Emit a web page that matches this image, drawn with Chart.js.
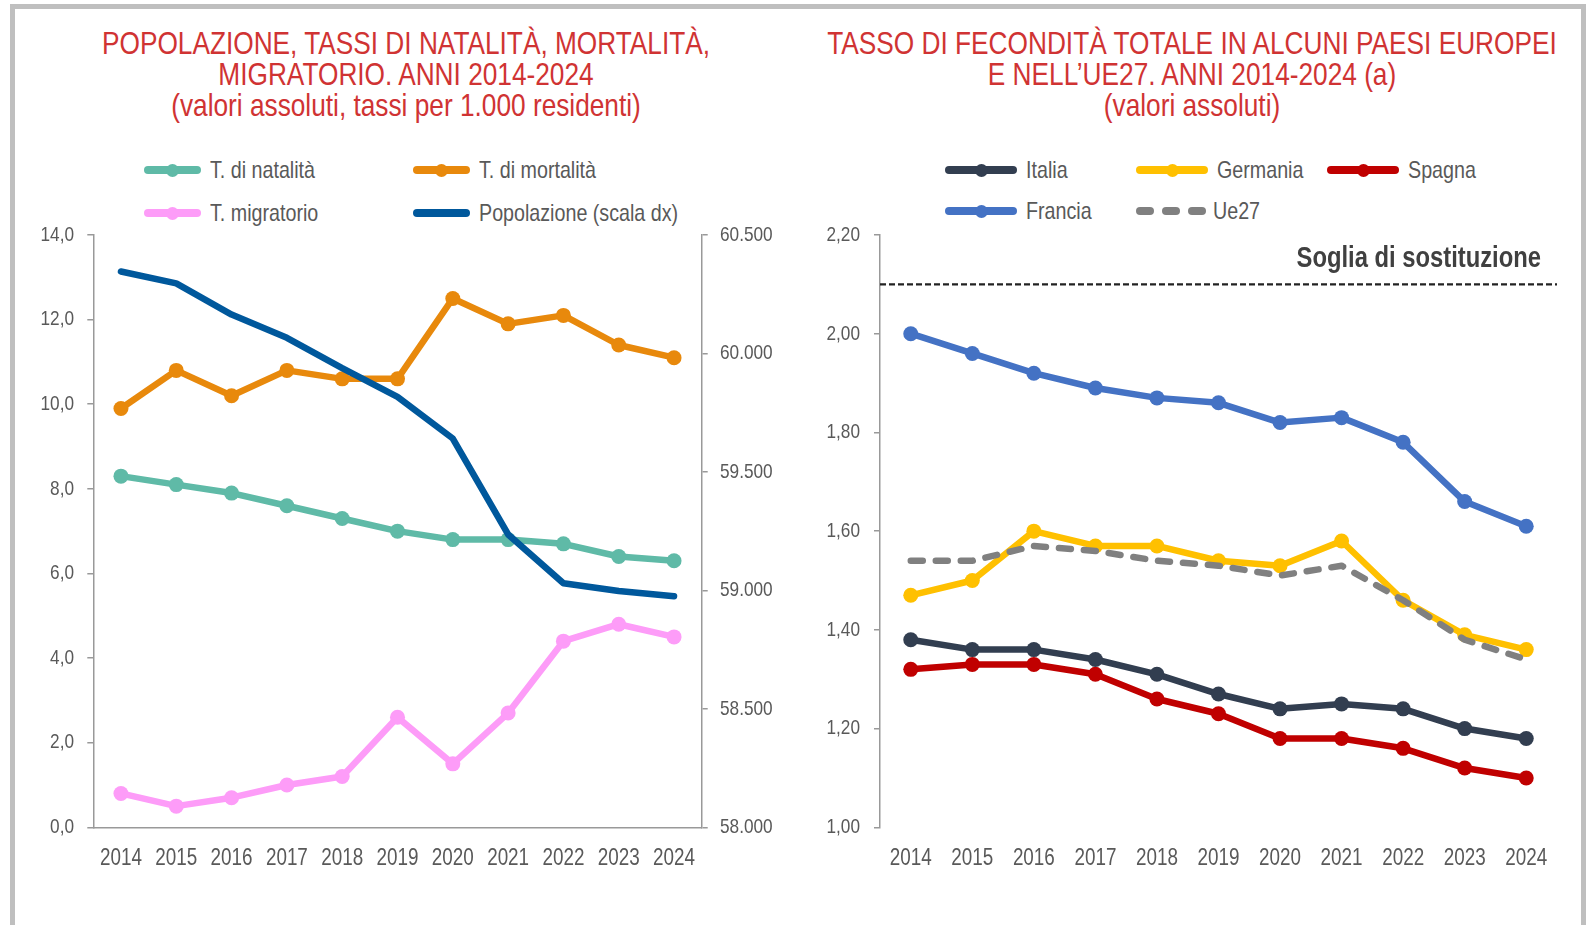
<!DOCTYPE html>
<html lang="it">

<head>
    <meta charset="UTF-8" />
    <title>Popolazione e fecondità 2014-2024</title>
    <script src="https://cdn.jsdelivr.net/npm/chart.js"></script>
    <style>
        body {
            margin: 0;
            width: 1590px;
            height: 925px;
            position: relative;
            overflow: hidden;
            background: #fff;
            font-family: "Liberation Sans", Arial, sans-serif;
        }

        .frame {
            position: absolute;
            left: 10px;
            top: 4px;
            width: 1576px;
            height: 1000px;
            border: 5px solid #bfbfbf;
            box-sizing: border-box;
        }

        /* no narrow font installed: squeeze Liberation Sans like Arial Narrow */
        .title {
            position: absolute;
            top: 27.5px;
            transform: translateX(-50%) scaleX(0.82);
            color: #d03333;
            font-size: 32px;
            line-height: 31px;
            text-align: center;
            white-space: nowrap;
        }

        .legend-item {
            position: absolute;
            height: 30px;
            display: flex;
            align-items: center;
            font-size: 24px;
            color: #595959;
            white-space: nowrap;
        }

        .legend-item .txt {
            display: inline-block;
            transform: scaleX(0.82);
            transform-origin: left center;
        }

        .swatch {
            position: relative;
            height: 8px;
            border-radius: 4px;
        }

        .swatch .dot {
            position: absolute;
            left: 50%;
            top: 50%;
            width: 13px;
            height: 13px;
            margin: -6.5px 0 0 -6.5px;
            border-radius: 50%;
        }

        .dashes {
            display: flex;
            justify-content: space-between;
            height: 8px;
        }

        .dashes span {
            width: 18px;
            height: 8px;
            border-radius: 4px;
        }

        .box {
            position: absolute;
        }
    </style>
</head>

<body>
    <div class="frame"></div>

    <div class="title" style="left:406px">POPOLAZIONE, TASSI DI NATALITÀ, MORTALITÀ,<br>MIGRATORIO. ANNI 2014-2024<br>(valori assoluti, tassi per 1.000 residenti)</div>
    <div class="title" style="left:1192px">TASSO DI FECONDITÀ TOTALE IN ALCUNI PAESI EUROPEI<br>E NELL’UE27. ANNI 2014-2024 (a)<br>(valori assoluti)</div>

    <div id="legendLeft"></div>
    <div id="legendRight"></div>

    <div class="box" style="left:15px; top:220px;">
        <canvas id="popChart" width="775" height="665"></canvas>
    </div>
    <div class="box" style="left:790px; top:220px;">
        <canvas id="tftChart" width="790" height="665"></canvas>
    </div>
</body>

</html>

<script>
    // ---- data ----
    const years = ['2014', '2015', '2016', '2017', '2018', '2019', '2020', '2021', '2022', '2023', '2024'];

    const natalita = [8.3, 8.1, 7.9, 7.6, 7.3, 7.0, 6.8, 6.8, 6.7, 6.4, 6.3];
    const mortalita = [9.9, 10.8, 10.2, 10.8, 10.6, 10.6, 12.5, 11.9, 12.1, 11.4, 11.1];
    const migratorio = [0.8, 0.5, 0.7, 1.0, 1.2, 2.6, 1.5, 2.7, 4.4, 4.8, 4.5];
    const popolazione = [60346, 60296, 60164, 60066, 59938, 59817, 59641, 59236, 59030, 58997, 58975];

    const italia = [1.38, 1.36, 1.36, 1.34, 1.31, 1.27, 1.24, 1.25, 1.24, 1.20, 1.18];
    const germania = [1.47, 1.50, 1.60, 1.57, 1.57, 1.54, 1.53, 1.58, 1.46, 1.39, 1.36];
    const spagna = [1.32, 1.33, 1.33, 1.31, 1.26, 1.23, 1.18, 1.18, 1.16, 1.12, 1.10];
    const francia = [2.00, 1.96, 1.92, 1.89, 1.87, 1.86, 1.82, 1.83, 1.78, 1.66, 1.61];
    const ue27 = [1.54, 1.54, 1.57, 1.56, 1.54, 1.53, 1.51, 1.53, 1.46, 1.38, 1.34];

    const rateTicks = { min: 0, max: 14, step: 2 };
    const popTicks = { min: 58000, max: 60500, step: 500 };
    const tftTicks = { min: 1.0, max: 2.2, step: 0.2 };
    const SOGLIA = 2.1;
    const SOGLIA_LABEL = 'Soglia di sostituzione';

    const FONT = '"Liberation Sans", Arial, sans-serif';
    const SQUEEZE = 0.82;
    const TEXT = '#595959';
    const AXIS = '#999999';

    Chart.defaults.font.family = FONT;
    Chart.defaults.color = TEXT;

    const itNum = (v, dec) => v.toFixed(dec).replace('.', ',');
    const thousands = v => String(v).replace(/\B(?=(\d{3})+(?!\d))/g, '.');

    function lineDs(label, data, color, extra) {
        return Object.assign({
            label: label,
            data: data,
            borderColor: color,
            backgroundColor: color,
            borderWidth: 6.5,
            pointRadius: 7.5,
            pointBorderWidth: 0,
            pointHoverRadius: 7.5,
            borderCapStyle: 'round',
            borderJoinStyle: 'round',
            tension: 0,
            fill: false
        }, extra || {});
    }

    function narrowText(ctx, text, x, y, align) {
        ctx.save();
        ctx.translate(x, y);
        ctx.scale(SQUEEZE, 1);
        ctx.textAlign = align;
        ctx.fillText(text, 0, 0);
        ctx.restore();
    }

    // tick labels drawn squeezed, at the positions of the library's ticks
    const narrowTicks = {
        id: 'narrowTicks',
        afterDraw(chart, args, opts) {
            const ctx = chart.ctx;
            ctx.save();
            ctx.fillStyle = TEXT;
            ctx.textBaseline = 'middle';
            Object.keys(opts).forEach(id => {
                const scale = chart.scales[id];
                const o = opts[id];
                if (!scale || !o) return;
                ctx.font = o.size + 'px ' + FONT;
                scale.ticks.forEach((t, i) => {
                    const p = scale.getPixelForTick(i);
                    if (scale.position === 'bottom') narrowText(ctx, t.label, p, scale.top + o.gap, 'center');
                    else if (scale.position === 'left') narrowText(ctx, t.label, scale.right - o.gap, p, 'right');
                    else narrowText(ctx, t.label, scale.left + o.gap, p, 'left');
                });
            });
            ctx.restore();
        }
    };

    // ---- html legends ----
    function buildLegend(id, series, x0, colStep, rows, lineW, cols) {
        const box = document.getElementById(id);
        series.forEach((s, i) => {
            const item = document.createElement('div');
            item.className = 'legend-item';
            item.style.left = (x0 + (i % cols) * colStep) + 'px';
            item.style.top = (rows[Math.floor(i / cols)] - 15) + 'px';
            let sw;
            if (s.dash) {
                sw = `<span class="dashes" style="width:${lineW - 2}px;margin-right:7px">` +
                    `<span style="background:${s.color}"></span><span style="background:${s.color}"></span><span style="background:${s.color}"></span></span>`;
            } else {
                sw = `<span class="swatch" style="width:${lineW}px;background:${s.color};margin-right:9px">` +
                    (s.dot ? `<span class="dot" style="background:${s.color}"></span>` : '') + `</span>`;
            }
            item.innerHTML = sw + `<span class="txt">${s.label}</span>`;
            box.appendChild(item);
        });
    }

    const leftSeries = [
        { label: 'T. di natalità', color: '#5fbaa7', data: natalita, dot: true },
        { label: 'T. di mortalità', color: '#e8890c', data: mortalita, dot: true },
        { label: 'T. migratorio', color: '#fd9cf8', data: migratorio, dot: true },
        { label: 'Popolazione (scala dx)', color: '#00589c', data: popolazione, dot: false }
    ];
    const rightSeries = [
        { label: 'Italia', color: '#323e50', data: italia, dot: true },
        { label: 'Germania', color: '#ffc000', data: germania, dot: true },
        { label: 'Spagna', color: '#c00000', data: spagna, dot: true },
        { label: 'Francia', color: '#4472c4', data: francia, dot: true },
        { label: 'Ue27', color: '#808080', data: ue27, dot: false, dash: true }
    ];

    buildLegend('legendLeft', leftSeries, 144, 269, [170, 213], 57, 2);
    buildLegend('legendRight', rightSeries, 945, 191, [170, 211], 72, 3);

    const yGrid = { drawOnChartArea: false, tickLength: 6, color: AXIS, lineWidth: 1.5 };

    // ---- left chart ----
    new Chart(document.getElementById('popChart'), {
        type: 'line',
        data: {
            labels: years,
            datasets: [
                lineDs(leftSeries[3].label, popolazione, leftSeries[3].color, { yAxisID: 'y1', pointRadius: 0, pointHoverRadius: 0, order: 0 }),
                lineDs(leftSeries[0].label, natalita, leftSeries[0].color, { yAxisID: 'y', order: 1 }),
                lineDs(leftSeries[1].label, mortalita, leftSeries[1].color, { yAxisID: 'y', order: 1 }),
                lineDs(leftSeries[2].label, migratorio, leftSeries[2].color, { yAxisID: 'y', order: 1 })
            ]
        },
        options: {
            responsive: false,
            animation: false,
            layout: { padding: { top: 15, left: 0, right: 0, bottom: 0 } },
            plugins: {
                legend: { display: false },
                tooltip: { enabled: false },
                narrowTicks: { x: { size: 23, gap: 31.5 }, y: { size: 21, gap: 19.3 }, y1: { size: 21, gap: 18.3 } }
            },
            scales: {
                x: {
                    offset: true,
                    grid: { display: false, drawTicks: false },
                    border: { display: true, color: AXIS, width: 1.5 },
                    ticks: { display: false, autoSkip: false },
                    afterFit: s => { s.height = 57.7; }
                },
                y: {
                    position: 'left',
                    min: rateTicks.min,
                    max: rateTicks.max,
                    ticks: { display: false, stepSize: rateTicks.step, callback: v => itNum(v, 1) },
                    grid: yGrid,
                    border: { color: AXIS, width: 1.5 },
                    afterFit: s => { s.width = 78.3; }
                },
                y1: {
                    position: 'right',
                    min: popTicks.min,
                    max: popTicks.max,
                    ticks: { display: false, stepSize: popTicks.step, callback: v => thousands(v) },
                    grid: yGrid,
                    border: { color: AXIS, width: 1.5 },
                    afterFit: s => { s.width = 88.3; }
                }
            }
        },
        plugins: [narrowTicks]
    });

    // ---- right chart ----
    const sogliaPlugin = {
        id: 'soglia',
        beforeDatasetsDraw(chart) {
            const { ctx, chartArea, scales } = chart;
            const py = scales.y.getPixelForValue(SOGLIA);
            ctx.save();
            ctx.strokeStyle = '#222';
            ctx.lineWidth = 2.2;
            ctx.setLineDash([6, 3]);
            ctx.beginPath();
            ctx.moveTo(chartArea.left, py);
            ctx.lineTo(chartArea.right, py);
            ctx.stroke();
            ctx.setLineDash([]);
            ctx.font = 'bold 29px ' + FONT;
            ctx.fillStyle = '#404040';
            ctx.textBaseline = 'middle';
            narrowText(ctx, SOGLIA_LABEL, chartArea.right - 16, py - 25, 'right');
            ctx.restore();
        }
    };

    new Chart(document.getElementById('tftChart'), {
        type: 'line',
        data: {
            labels: years,
            datasets: [
                lineDs(rightSeries[4].label, ue27, rightSeries[4].color, { pointRadius: 0, pointHoverRadius: 0, borderDash: [12, 13], order: 0 }),
                lineDs(rightSeries[3].label, francia, rightSeries[3].color, { order: 1 }),
                lineDs(rightSeries[0].label, italia, rightSeries[0].color, { order: 1 }),
                lineDs(rightSeries[2].label, spagna, rightSeries[2].color, { order: 2 }),
                lineDs(rightSeries[1].label, germania, rightSeries[1].color, { order: 2 })
            ]
        },
        options: {
            responsive: false,
            animation: false,
            layout: { padding: { top: 15, left: 0, right: 23, bottom: 0 } },
            plugins: {
                legend: { display: false },
                tooltip: { enabled: false },
                narrowTicks: { x: { size: 23, gap: 31.5 }, y: { size: 21, gap: 20 } }
            },
            scales: {
                x: {
                    offset: true,
                    grid: { display: false, drawTicks: false },
                    border: { display: false },
                    ticks: { display: false, autoSkip: false },
                    afterFit: s => { s.height = 57.7; }
                },
                y: {
                    min: tftTicks.min,
                    max: tftTicks.max,
                    ticks: { display: false, stepSize: tftTicks.step, callback: v => itNum(v, 2) },
                    grid: yGrid,
                    border: { color: AXIS, width: 1.5 },
                    afterFit: s => { s.width = 90; }
                }
            }
        },
        plugins: [sogliaPlugin, narrowTicks]
    });
</script>
